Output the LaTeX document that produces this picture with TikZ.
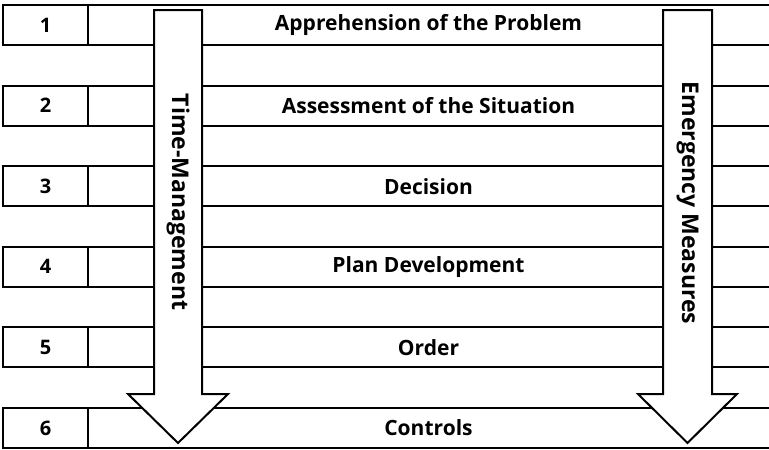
\documentclass[tikz,border=0pt]{standalone}
\usepackage{fontspec}
\setmainfont{Open Sans}
\begin{document}
\begin{tikzpicture}[x=1pt,y=-1pt,
  line width=2pt,
  rowbox/.style={draw=black, fill=white},
  numlabel/.style={font=\bfseries\fontsize{20}{24}\selectfont},
  steplabel/.style={font=\bfseries\fontsize{21}{24}\selectfont},
  bigarrow/.style={draw=black, fill=white, line join=miter},
  arrowlabel/.style={font=\bfseries\fontsize{23}{26}\selectfont, rotate=-90}]
\useasboundingbox (0,0) rectangle (769,450);
\begin{scope}
\clip (0,0) rectangle (769,450);
% six process steps, one row each
\foreach \k/\txt [count=\i] in {1/Apprehension of the Problem,2/Assessment of the Situation,3/Decision,4/Plan Development,5/Order,6/Controls}{
  \pgfmathsetmacro{\top}{5+(\i-1)*80.6}
  \draw[rowbox] (3,\top) rectangle (780,\top+40);
  \draw (88,\top) -- (88,\top+40);
  \node[numlabel] (n\i) at (45.5,\top+20) {\k};
  \node[steplabel] (s\i) at (428.5,\top+20) {\txt};
}
% the two downward block arrows
\draw[bigarrow] (154,10) -- (202,10) -- (202,394) -- (228,394) -- (178,443) -- (128,394) -- (154,394) -- cycle;
\node[arrowlabel] (tm) at (178,202) {Time-Management};
\draw[bigarrow] (663,10) -- (712,10) -- (712,394) -- (737,394) -- (687.5,443) -- (638,394) -- (663,394) -- cycle;
\node[arrowlabel] (em) at (687.5,203) {Emergency Measures};
\end{scope}
\end{tikzpicture}
\end{document}
